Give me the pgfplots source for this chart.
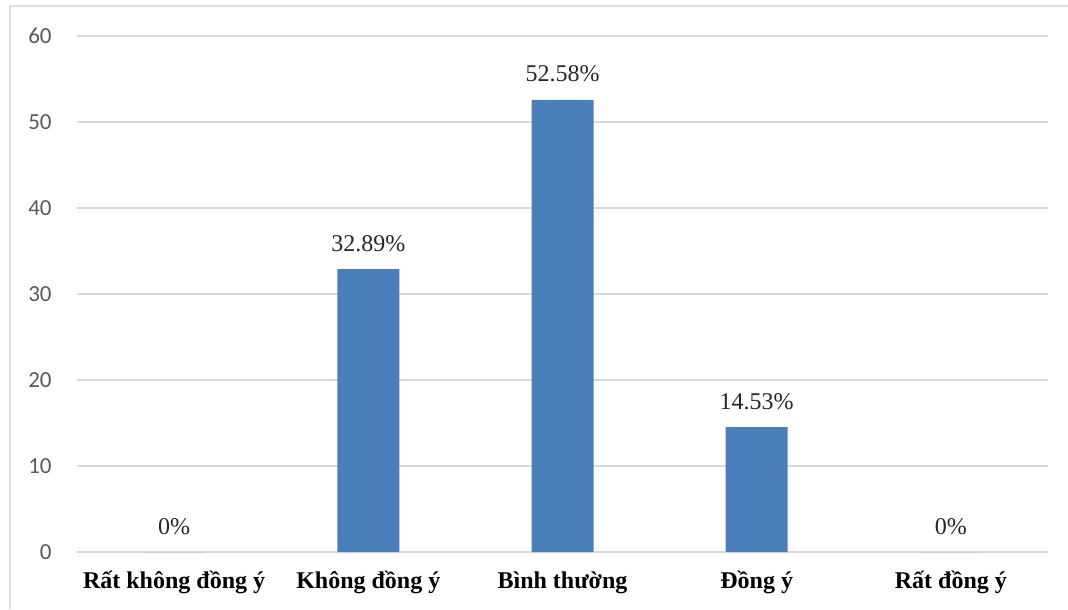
\documentclass[border=0pt]{standalone}
\usepackage{fontspec}
\setmainfont{Liberation Serif}
\newfontfamily\tickfont{Carlito}
\usepackage{pgfplots}
\pgfplotsset{compat=1.18}
\definecolor{barblue}{RGB}{74,126,187}
\definecolor{gridgray}{RGB}{217,217,217}
\definecolor{framegray}{RGB}{222,222,222}
\definecolor{ticktext}{RGB}{89,89,89}
\begin{document}
\begin{tikzpicture}
\path[use as bounding box] (-38.5pt,-28.5pt) rectangle (495.5pt,276pt);
% chart frame (top and left edges)
\draw[framegray, line width=1pt] (-33.5pt,-28.5pt) -- (-33.5pt,273pt) -- (495.5pt,273pt);
\begin{axis}[
  at={(0pt,0pt)}, anchor=south west, scale only axis,
  width=485.5pt, height=258pt,
  ymin=0, ymax=60, ytick={0,10,...,60},
  xmin=-0.5, xmax=4.5, xtick={0,1,2,3,4},
  xticklabels={Rất không đồng ý, Không đồng ý, Bình thường, Đồng ý, Rất đồng ý},
  ybar, bar width=31pt,
  axis line style={draw=none},
  major tick length=0pt,
  ymajorgrids, grid style={gridgray, line width=0.8pt},
  /pgf/number format/assume math mode=true,
  yticklabel style={font=\tickfont\fontsize{11.5}{13}\selectfont, text=ticktext, anchor=east, inner sep=0pt},
  yticklabel shift=12.5pt,
  xticklabel style={font=\bfseries\fontsize{12}{14}\selectfont, anchor=base, inner sep=0pt},
  xticklabel shift=18pt,
  point meta=explicit symbolic,
  nodes near coords,
  nodes near coords style={font=\fontsize{12}{14}\selectfont, text={rgb,255:red,38;green,38;blue,38}, anchor=base, inner sep=0pt, yshift=9pt},
]
\addplot[fill=barblue, draw=none] coordinates {
  (0,0) [0\%]
  (1,32.89) [32.89\%]
  (2,52.58) [52.58\%]
  (3,14.53) [14.53\%]
  (4,0) [0\%]
};
\end{axis}
\end{tikzpicture}
\end{document}
